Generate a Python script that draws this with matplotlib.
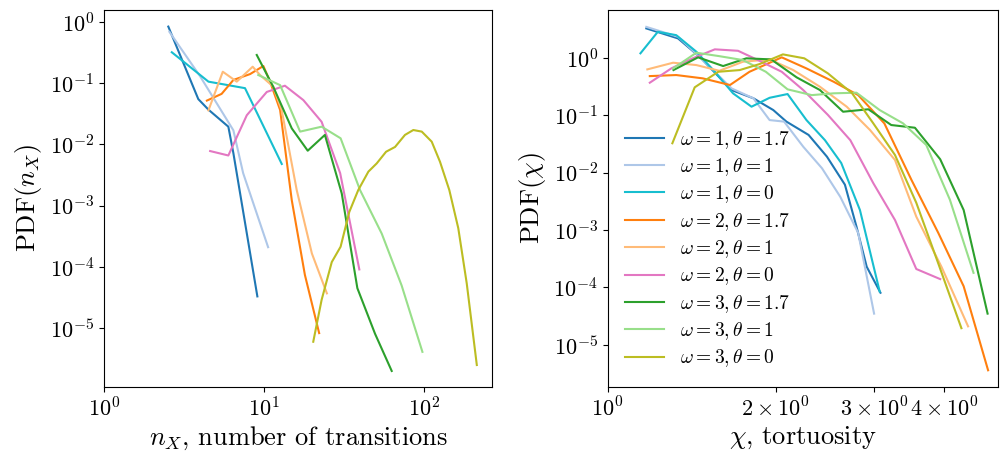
import numpy as np
import matplotlib
matplotlib.use('Agg')
import matplotlib.pyplot as plt

plt.rcParams['font.family'] = 'serif'
plt.rcParams['font.serif'] = ['cmr10']
plt.rcParams['mathtext.fontset'] = 'cm'
plt.rcParams['axes.formatter.use_mathtext'] = True

labels = [r'$\omega=1,\theta=1.7$', r'$\omega=1,\theta=1$', r'$\omega=1,\theta=0$',
          r'$\omega=2,\theta=1.7$', r'$\omega=2,\theta=1$', r'$\omega=2,\theta=0$',
          r'$\omega=3,\theta=1.7$', r'$\omega=3,\theta=1$', r'$\omega=3,\theta=0$']
colors = ['#1f77b4', '#aec7e8', '#17becf', '#ff7f0e', '#ffbb78', '#e377c2',
          '#2ca02c', '#98df8a', '#bcbd22']

# number of transitions n_X
nx_x = [
    [2.52, 3.88, 4.49, 5.98, 6.43, 9.08],
    [2.56, 3.98, 6.43, 7.4, 10.6],
    [2.65, 4.49, 7.6, 12.9],
    [4.39, 5.43, 6.43, 8.18, 9.9, 10.9, 12.6, 14.9, 18.0, 22.1],
    [4.49, 5.52, 6.75, 8.49, 9.44, 11.4, 12.9, 16.0, 19.9, 24.7],
    [4.6, 5.98, 7.8, 10.4, 13.5, 17.6, 22.9, 29.9, 39.4],
    [9.0, 11.4, 14.9, 18.75, 24.0, 30.6, 38.3, 49.4, 62.8],
    [9.2, 12.6, 16.8, 22.9, 30.1, 39.8, 54.4, 72.4, 97.7],
    [20.3, 22.9, 26.5, 30.1, 34.1, 38.8, 44.9, 50.6, 57.9, 65.9, 76.0, 85.7,
     96.8, 111.7, 125.9, 143.9, 163.7, 184.9, 213.8],
]
nx_pdf = [
    [0.84, 0.055, 0.037, 0.0195, 0.0072, 3.3e-5],
    [0.69, 0.13, 0.017, 0.0034, 2.1e-4],
    [0.32, 0.106, 0.083, 0.0048],
    [0.052, 0.067, 0.113, 0.141, 0.191, 0.106, 0.0365, 0.00123, 7.4e-5, 8.3e-6],
    [0.036, 0.154, 0.106, 0.186, 0.136, 0.088, 0.036, 0.0018, 1.66e-4, 3.7e-5],
    [0.0078, 0.0066, 0.030, 0.072, 0.091, 0.053, 0.0234, 0.0034, 9.1e-5],
    [0.289, 0.088, 0.0183, 0.0079, 0.0143, 0.00158, 4.5e-5, 8.1e-6, 2.0e-6],
    [0.136, 0.093, 0.0162, 0.0195, 0.0126, 0.0018, 3.5e-4, 5.0e-5, 4.1e-6],
    [6.0e-6, 2.9e-5, 1.2e-4, 2.14e-4, 7.9e-4, 0.0018, 0.0036, 0.0049, 0.0076,
     0.0091, 0.0143, 0.0172, 0.0162, 0.0111, 0.0052, 0.0018, 4.3e-4, 5.4e-5, 2.5e-6],
]

# tortuosity chi
chi_x = [
    [1.173, 1.337, 1.462, 1.667, 1.824, 1.98, 2.09, 2.29, 2.47, 2.66, 2.79, 2.91, 3.08],
    [1.173, 1.337, 1.462, 1.667, 1.824, 1.95, 2.07, 2.24, 2.42, 2.61, 2.81, 3.0],
    [1.145, 1.23, 1.327, 1.442, 1.556, 1.677, 1.81, 1.95, 2.10, 2.27, 2.45, 2.62, 2.83, 3.07],
    [1.19, 1.327, 1.48, 1.656, 1.795, 2.05, 2.27, 2.54, 2.81, 3.13, 3.50, 3.91, 4.34, 4.80],
    [1.178, 1.31, 1.442, 1.585, 1.747, 1.95, 2.15, 2.40, 2.68, 2.95, 3.27, 3.57, 3.96, 4.42],
    [1.19, 1.30, 1.42, 1.556, 1.712, 1.86, 2.05, 2.24, 2.48, 2.72, 2.99, 3.27, 3.57, 3.94],
    [1.312, 1.452, 1.61, 1.772, 1.963, 2.18, 2.40, 2.64, 2.93, 3.22, 3.55, 3.94, 4.34, 4.79],
    [1.31, 1.442, 1.585, 1.747, 1.92, 2.10, 2.32, 2.54, 2.79, 3.07, 3.38, 3.72, 4.10, 4.52],
    [1.306, 1.432, 1.578, 1.724, 1.87, 2.06, 2.25, 2.48, 2.74, 2.99, 3.27, 3.57, 3.91, 4.30],
]
chi_pdf = [
    [3.29, 2.20, 1.05, 0.277, 0.199, 0.124, 0.078, 0.0457, 0.0191, 0.0062, 0.00115, 2.3e-4, 8.1e-5],
    [3.5, 2.35, 1.05, 0.296, 0.199, 0.083, 0.078, 0.0285, 0.012, 0.0038, 8.9e-4, 3.5e-5],
    [1.21, 2.87, 2.51, 1.29, 0.577, 0.243, 0.142, 0.203, 0.236, 0.083, 0.037, 0.0148, 0.00224, 8.5e-5],
    [0.485, 0.506, 0.443, 0.339, 0.577, 1.03, 0.66, 0.386, 0.226, 0.0725, 0.0075, 8.9e-4, 1.05e-4, 3.6e-6],
    [0.635, 0.83, 0.755, 0.60, 0.863, 0.948, 0.618, 0.316, 0.142, 0.0557, 0.0167, 0.00172, 2.3e-4, 2.1e-5],
    [0.372, 0.66, 0.99, 1.42, 1.34, 0.92, 0.577, 0.277, 0.102, 0.037, 0.0066, 0.0015, 2.1e-4, 1.4e-4],
    [0.618, 1.03, 0.726, 0.99, 0.948, 0.461, 0.277, 0.116, 0.128, 0.068, 0.061, 0.0172, 0.00224, 3.5e-5],
    [0.66, 1.24, 1.08, 0.923, 0.577, 0.285, 0.226, 0.243, 0.249, 0.124, 0.0728, 0.0305, 0.0034, 1.8e-4],
    [0.0327, 0.309, 0.577, 0.618, 0.785, 1.16, 0.99, 0.541, 0.243, 0.0728, 0.0204, 0.003, 2.6e-4, 1.95e-5],
]

chi_ticks = [1, 2, 3, 4]
chi_ticklabels = [r'$10^0$', r'$2\times10^0$', r'$3\times10^0$', r'$4\times10^0$']

fig = plt.figure(figsize=(10.01, 4.53), dpi=100)
ax1 = fig.add_axes([0.104, 0.146, 0.3875, 0.832])
ax2 = fig.add_axes([0.607, 0.146, 0.39, 0.832])

for i in range(9):
    ax1.plot(nx_x[i], nx_pdf[i], color=colors[i], lw=1.5)
    ax2.plot(chi_x[i], chi_pdf[i], color=colors[i], lw=1.5, label=labels[i])

ax1.set_xscale('log')
ax1.set_yscale('log')
ax1.set_xlim(1, 266)
ax1.set_ylim(1.1e-6, 1.57)
ax1.set_xlabel(r'$n_X$, number of transitions', fontsize=19, labelpad=3)
ax1.set_ylabel(r'PDF$(n_X)$', fontsize=19)

ax2.set_xscale('log')
ax2.set_yscale('log')
ax2.set_xlim(1, 5)
ax2.set_ylim(1.85e-6, 6.9)
ax2.set_xticks(chi_ticks)
ax2.set_xticklabels(chi_ticklabels)
ax2.set_xlabel(r'$\chi$, tortuosity', fontsize=19, labelpad=3)
ax2.set_ylabel(r'PDF$(\chi)$', fontsize=19)
ax2.legend(loc='lower left', frameon=False, fontsize=14, labelspacing=0.28,
           handlelength=2.0, handletextpad=0.8)

for ax in (ax1, ax2):
    ax.minorticks_off()
    ax.tick_params(labelsize=16)

fig.savefig('out.png', dpi=100)
